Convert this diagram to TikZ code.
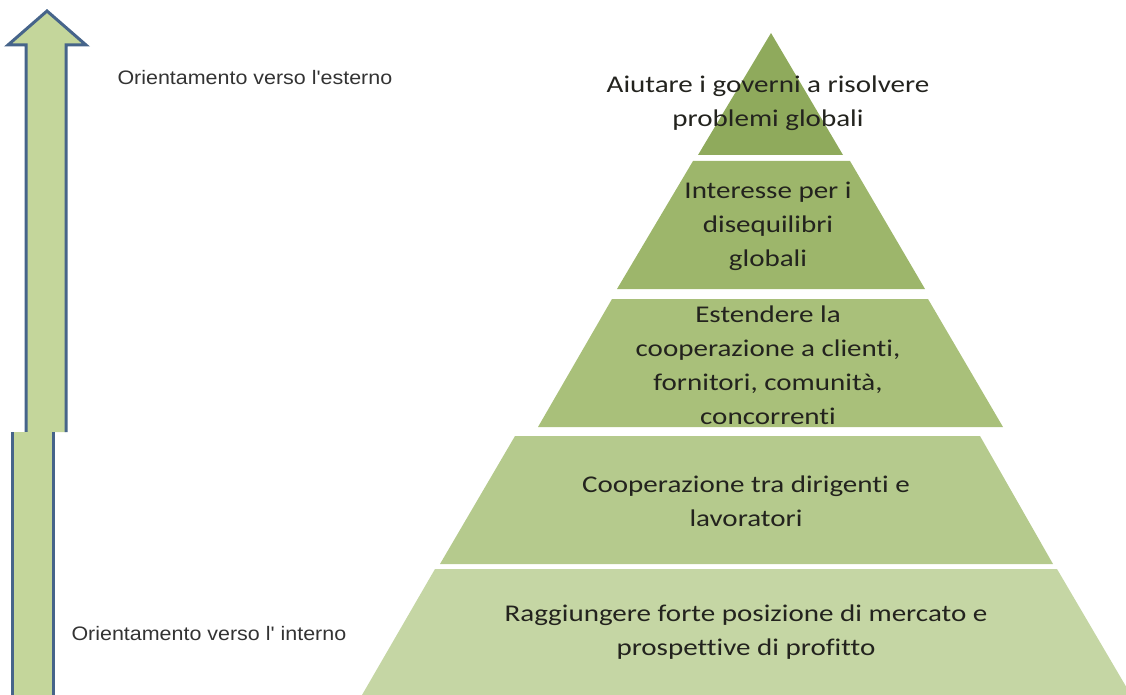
\documentclass[tikz,border=0pt]{standalone}
\usepackage{fontspec}
\setmainfont{Carlito}[FakeStretch=1.21,Ligatures=NoCommon]
\newfontfamily\arialfont{Liberation Sans}[FakeStretch=1.1]
\definecolor{levA}{RGB}{143,170,92}
\definecolor{levB}{RGB}{157,182,107}
\definecolor{levC}{RGB}{169,192,122}
\definecolor{levD}{RGB}{181,202,141}
\definecolor{levE}{RGB}{197,214,164}
\definecolor{arrowfill}{RGB}{196,214,155}
\definecolor{arrowline}{RGB}{70,100,138}
\definecolor{txt}{RGB}{35,35,30}

\tikzstyle{levtext}=[align=center,
    text=txt,
    font=\fontsize{24}{34}\selectfont]
\tikzstyle{sidetext}=[anchor=west,
    text=black!80,
    font=\arialfont\fontsize{19.5}{22}\selectfont]
\tikzstyle{shaft}=[draw=arrowline,line width=3pt,line join=miter]

\begin{document}
\begin{tikzpicture}[x=1pt,y=-1pt]
    \useasboundingbox (0,0) rectangle (1126,695);
    \clip (0,0) rectangle (1126,695);
    % pyramid bands, top to bottom
    \fill[levA] (771,33) -- (843,155) -- (698,155) -- cycle;
    \fill[levB] (693,161) -- (850,161) -- (925,289) -- (617,289) -- cycle;
    \fill[levC] (612,299) -- (928,299) -- (1003,427) -- (538,427) -- cycle;
    \fill[levD] (515,436) -- (980,436) -- (1053,564) -- (440,564) -- cycle;
    \fill[levE] (435,569) -- (1057,569) -- (1131,695) -- (362,695) -- cycle;
    \node (top) [levtext] at (768,103) {Aiutare i governi a risolvere\\problemi globali};
    \node (global) [levtext] at (768,226) {Interesse per i\\disequilibri\\globali};
    \node (coop) [levtext] at (768,365) {Estendere la\\cooperazione a clienti,\\fornitori, comunità,\\concorrenti};
    \node (staff) [levtext] at (746,501) {Cooperazione tra dirigenti e\\lavoratori};
    \node (market) [levtext] at (746,632) {Raggiungere forte posizione di mercato e\\prospettive di profitto};
    % arrow, upper piece with head
    \fill[arrowfill] (26,432) -- (26,45) -- (8,45) -- (47,11) -- (86,45) -- (66,45) -- (66,432) -- cycle;
    \draw[shaft] (26,432) -- (26,45) -- (8,45) -- (47,11) -- (86,45) -- (66,45) -- (66,432);
    % arrow, lower piece
    \fill[arrowfill] (12,432) rectangle (53,695);
    \draw[shaft] (12,432) -- (12,695) (53,432) -- (53,695);
    \node (outer) [sidetext] at (114,78) {Orientamento verso l'esterno};
    \node (inner) [sidetext] at (68,634) {Orientamento verso l' interno};
\end{tikzpicture}
\end{document}
